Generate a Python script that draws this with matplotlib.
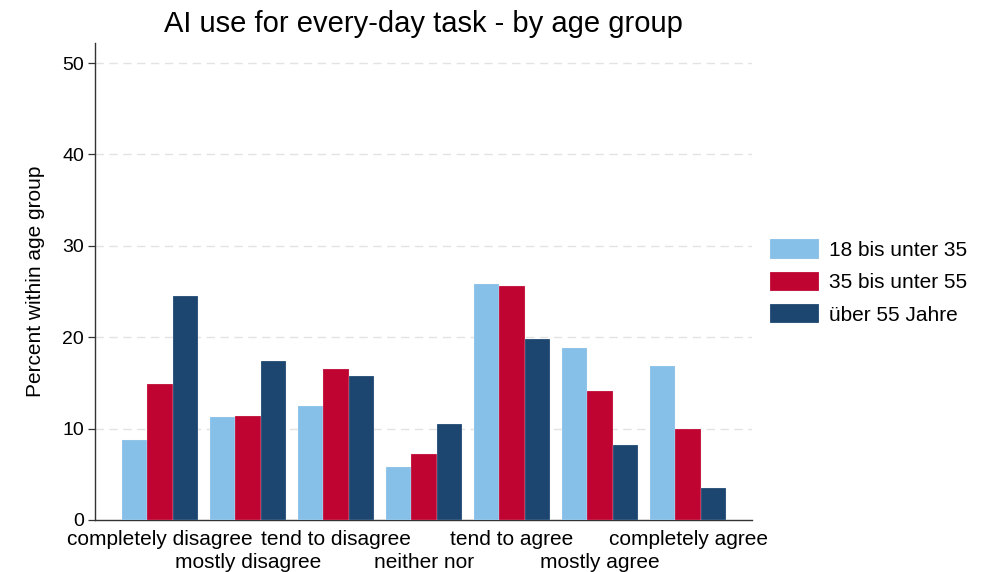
import matplotlib
matplotlib.use("Agg")
import matplotlib.pyplot as plt
import numpy as np

plt.rcParams['font.family'] = ['Liberation Sans', 'DejaVu Sans']

categories = ["completely disagree", "mostly disagree", "tend to disagree", "neither nor",
              "tend to agree", "mostly agree", "completely agree"]
series_names = ["18 bis unter 35", "35 bis unter 55", "über 55 Jahre"]
young = [8.8, 11.3, 12.5, 5.8, 25.8, 18.8, 16.8]
middle = [14.9, 11.4, 16.5, 7.2, 25.6, 14.1, 10.0]
old = [24.5, 17.4, 15.8, 10.5, 19.8, 8.2, 3.5]
yticks = [0, 10, 20, 30, 40, 50]
colors = ["#86BFE8", "#C00432", "#1C4670"]

W, H = 994, 572
fig = plt.figure(figsize=(W / 100, H / 100), dpi=100)
ax = fig.add_axes([95 / W, 1 - 520 / H, (752 - 95) / W, (520 - 43) / H])

x = np.arange(len(categories))
bw = 0.288
for i, (vals, c, name) in enumerate(zip([young, middle, old], colors, series_names)):
    ax.bar(x + (i - 1) * bw, vals, width=bw, color=c, edgecolor="#f2f2f2", linewidth=0.15,
           label=name, zorder=3)

ax.set_xlim(-0.739, 6.727)
ax.set_ylim(0, 52.2)
ax.set_yticks(yticks)
ax.set_yticklabels([str(v) for v in yticks], fontsize=14)
ax.tick_params(axis='y', length=5, width=0.9, pad=3, color="#333333")
for v in yticks[1:]:
    ax.axhline(v, color="#e3e3e3", linestyle=(0, (6, 4)), linewidth=1.0, zorder=1)

ax.set_xticks(x[::2])
ax.set_xticklabels(categories[::2], fontsize=15)
ax.set_xticks(x[1::2], minor=True)
ax.set_xticklabels(categories[1::2], minor=True, fontsize=15)
ax.tick_params(axis='x', which='major', length=0, pad=7.5)
ax.tick_params(axis='x', which='minor', length=0, pad=23.5)

for s in ["top", "right"]:
    ax.spines[s].set_visible(False)
for s in ["left", "bottom"]:
    ax.spines[s].set_color("#333333")
    ax.spines[s].set_linewidth(1.0)

ax.set_ylabel("Percent within age group", fontsize=15, labelpad=12)
ax.set_title("AI use for every-day task - by age group", fontsize=21, pad=8)

ax.legend(loc="upper left", bbox_to_anchor=(762 / W, 1 - 231 / H), bbox_transform=fig.transFigure,
          frameon=False, fontsize=15, handlelength=2.35, handleheight=1.05, labelspacing=0.55,
          handletextpad=0.45, borderaxespad=0)

fig.savefig("out.png", dpi=100)
